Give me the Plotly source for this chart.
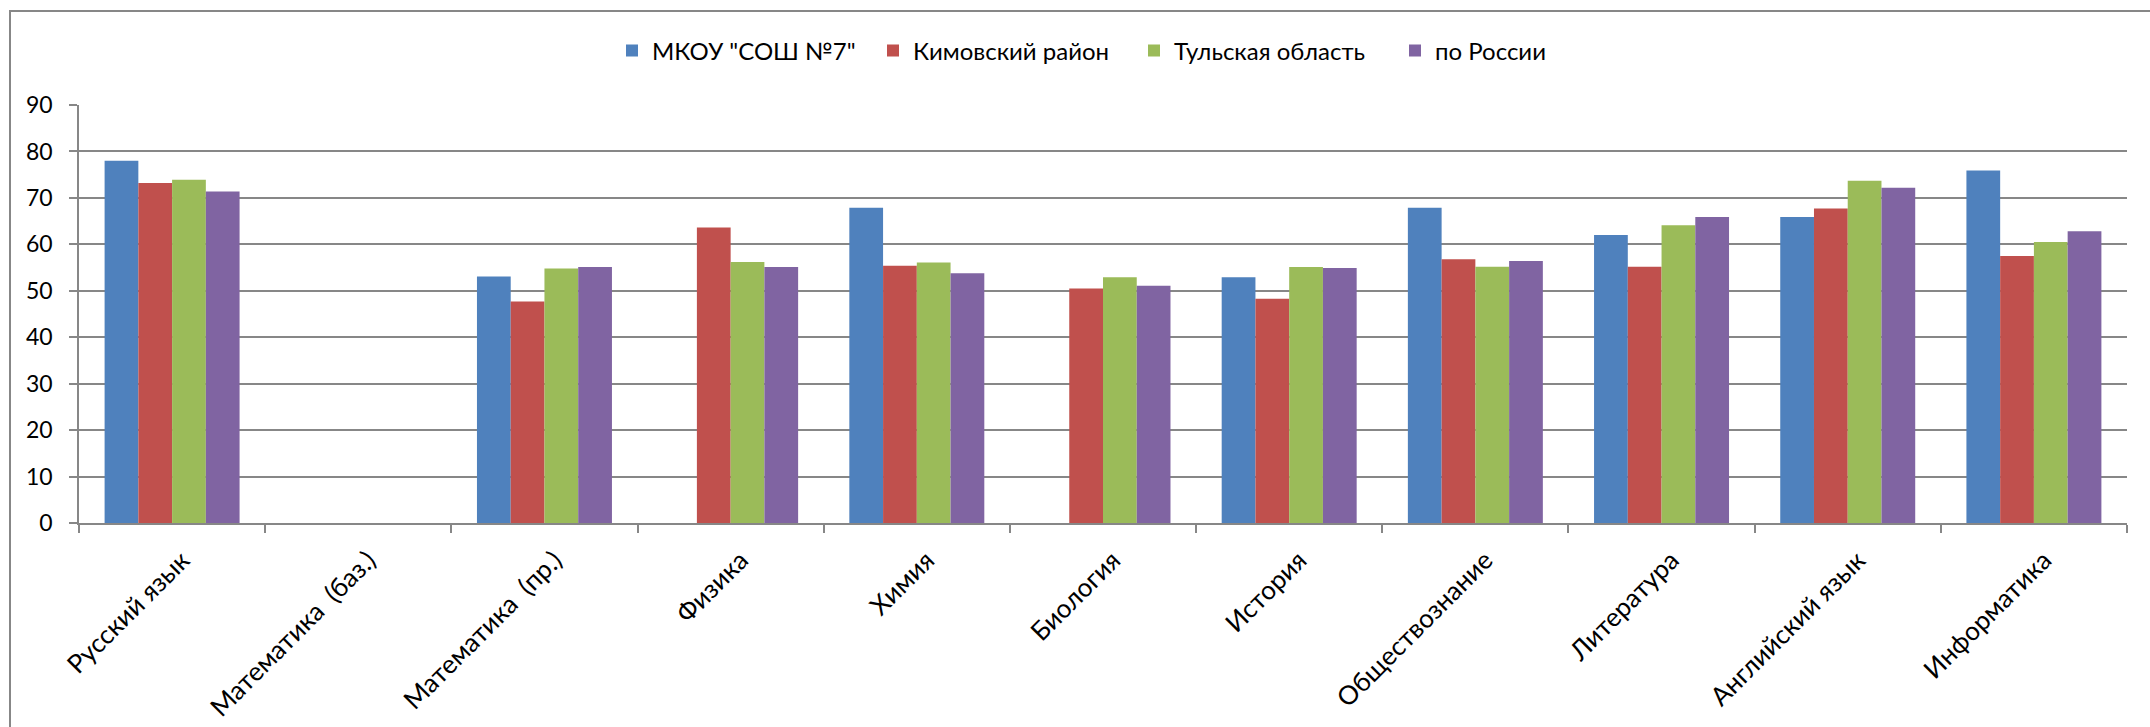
import plotly.graph_objects as go

categories = ["Русский язык", "Математика \u00a0(баз.)", "Математика \u00a0(пр.)", "Физика", "Химия",
              "Биология", "История", "Обществознание", "Литература", "Английский язык", "Информатика"]
series_names = ['МКОУ "СОШ №7"', "Кимовский район", "Тульская область", "по России"]
school = [78.0, None, 53.1, None, 67.9, None, 52.9, 67.9, 62.0, 65.9, 75.9]
district = [73.2, None, 47.7, 63.6, 55.4, 50.5, 48.3, 56.8, 55.2, 67.7, 57.5]
region = [73.9, None, 54.8, 56.2, 56.1, 52.9, 55.1, 55.2, 64.1, 73.7, 60.5]
russia = [71.4, None, 55.1, 55.1, 53.8, 51.1, 54.9, 56.4, 65.9, 72.2, 62.8]
y_ticks = [0, 10, 20, 30, 40, 50, 60, 70, 80, 90]

colors = ["#4F81BD", "#C0504D", "#9BBB59", "#8064A2"]
FONT = "Lato"
GRID = "#878787"

W, H = 2150, 727
L, R, T, B = 79, 23, 105, 204
pw, ph = W - L - R, H - T - B

fig = go.Figure()
for name, vals, c in zip(series_names, [school, district, region, russia], colors):
    fig.add_trace(go.Bar(x=categories, y=vals, name=name, marker_color=c,
                         marker_line_width=0))

def px2paper_x(px):
    return (px - L) / pw

def px2paper_y(py):
    return (H - B - py) / ph

fig.update_layout(
    width=W, height=H,
    margin=dict(l=L, r=R, t=T, b=B, autoexpand=False),
    paper_bgcolor="white", plot_bgcolor="white",
    barmode="group", bargap=0.275, bargroupgap=0,
    font=dict(family=FONT, size=22, color="black"),
    legend=dict(orientation="h", x=px2paper_x(612), xanchor="left",
                y=px2paper_y(51), yanchor="middle",
                entrywidth=216, entrywidthmode="pixels",
                font=dict(family=FONT, size=24, color="black"),
                bgcolor="rgba(0,0,0,0)"),
    xaxis=dict(showgrid=False, showline=True, linecolor=GRID, linewidth=1.5,
               ticks="outside", tickson="boundaries", ticklen=8, tickcolor=GRID, tickwidth=1.5,
               tickangle=-45, ticklabelstandoff=10, ticklabelshift=10,
               tickfont=dict(family=FONT, size=26, color="black")),
    yaxis=dict(range=[0, 90], tickvals=y_ticks, showgrid=True, gridcolor=GRID, gridwidth=1.5,
               zeroline=False, showline=True, linecolor=GRID, linewidth=1.5,
               ticks="outside", ticklen=8, tickcolor=GRID, tickwidth=1.5,
               ticklabelstandoff=12,
               tickfont=dict(family=FONT, size=23, color="black")),
    shapes=[dict(type="rect", xref="paper", yref="paper",
                 x0=px2paper_x(10), x1=px2paper_x(W + 5),
                 y0=px2paper_y(H + 5), y1=px2paper_y(11),
                 line=dict(color=GRID, width=2), fillcolor="rgba(0,0,0,0)", layer="below")],
)

fig.write_html("out.html", config={"displayModeBar": False},
               post_script="document.body.style.margin='0';document.body.style.overflow='hidden';")
